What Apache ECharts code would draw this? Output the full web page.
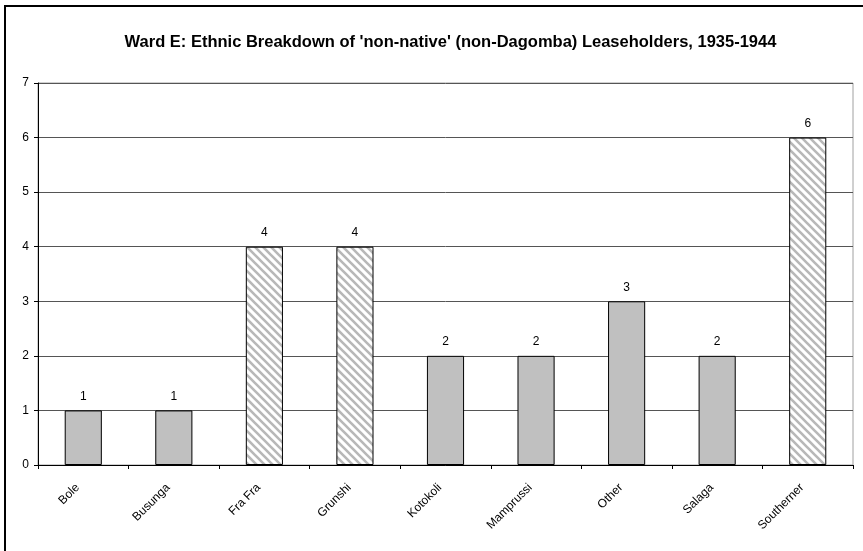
<!DOCTYPE html>
<html>
<head>
<meta charset="utf-8">
<script src="https://cdn.jsdelivr.net/npm/echarts@6/dist/echarts.min.js"></script>
<style>
html,body{margin:0;padding:0;background:#fff;}
#chart{width:863px;height:551px;}
</style>
</head>
<body>
<div id="chart"></div>
<script>
const titleText = "Ward E: Ethnic Breakdown of 'non-native' (non-Dagomba) Leaseholders, 1935-1944";
const categories = ['Bole','Busunga','Fra Fra','Grunshi','Kotokoli','Mamprussi','Other','Salaga','Southerner'];
const values = [1, 1, 4, 4, 2, 2, 3, 2, 6];
const hatchedCategories = ['Fra Fra','Grunshi','Southerner'];
const yTicks = [0,1,2,3,4,5,6,7];

function makeHatch() {
  const s = 8;
  const c = document.createElement('canvas');
  c.width = s; c.height = s;
  const g = c.getContext('2d');
  g.fillStyle = '#ffffff';
  g.fillRect(0,0,s,s);
  g.strokeStyle = '#b8b8b8';
  g.lineWidth = 2.6;
  g.beginPath();
  g.moveTo(-2,-2); g.lineTo(s+2,s+2);
  g.moveTo(-2,s-2); g.lineTo(2,s+2);
  g.moveTo(s-2,-2); g.lineTo(s+2,2);
  g.stroke();
  return c;
}
const hatch = makeHatch();
const FONT = 'Liberation Sans, Arial, sans-serif';

const chart = echarts.init(document.getElementById('chart'), null, {renderer:'canvas'});
chart.setOption({
  animation: false,
  backgroundColor: '#ffffff',
  title: {
    text: titleText,
    left: 445.5, textAlign: 'center', top: 29,
    textStyle: {fontFamily: FONT, fontSize: 16.5, fontWeight: 'bold', color: '#000'}
  },
  graphic: [{
    type: 'rect', shape: {x: 5, y: 6, width: 1000, height: 1000},
    style: {fill: 'none', stroke: '#000', lineWidth: 2}, z: 100
  }],
  grid: {left: 38, right: 10, top: 83, bottom: 86, show: true, borderColor: '#a0a0a0', borderWidth: 1, backgroundColor: 'transparent'},
  xAxis: {
    type: 'category', data: categories, boundaryGap: true,
    axisLine: {lineStyle: {color: '#000', width: 1}},
    axisTick: {show: true, length: 4, alignWithLabel: false, lineStyle: {color: '#000'}},
    axisLabel: {rotate: 45, fontSize: 12, color: '#000', margin: 15, padding: [0, 8, 0, 0], interval: 0, fontFamily: FONT}
  },
  yAxis: {
    type: 'value', min: yTicks[0], max: yTicks[yTicks.length-1], interval: 1,
    axisLine: {show: true, lineStyle: {color: '#000', width: 1}},
    axisTick: {show: true, length: 4, lineStyle: {color: '#000'}},
    axisLabel: {fontSize: 12, color: '#000', margin: 9, fontFamily: FONT},
    splitLine: {show: true, lineStyle: {color: '#555', width: 1}}
  },
  series: [{
    type: 'bar',
    barWidth: '41%',
    data: values.map((v, i) => ({
      value: v,
      itemStyle: hatchedCategories.includes(categories[i])
        ? {color: {image: hatch, repeat: 'repeat'}, borderColor: '#000', borderWidth: 1}
        : {color: '#c0c0c0', borderColor: '#000', borderWidth: 1}
    })),
    label: {show: true, position: 'top', distance: 8, fontSize: 12, color: '#000', fontFamily: FONT}
  }]
});
</script>
</body>
</html>
